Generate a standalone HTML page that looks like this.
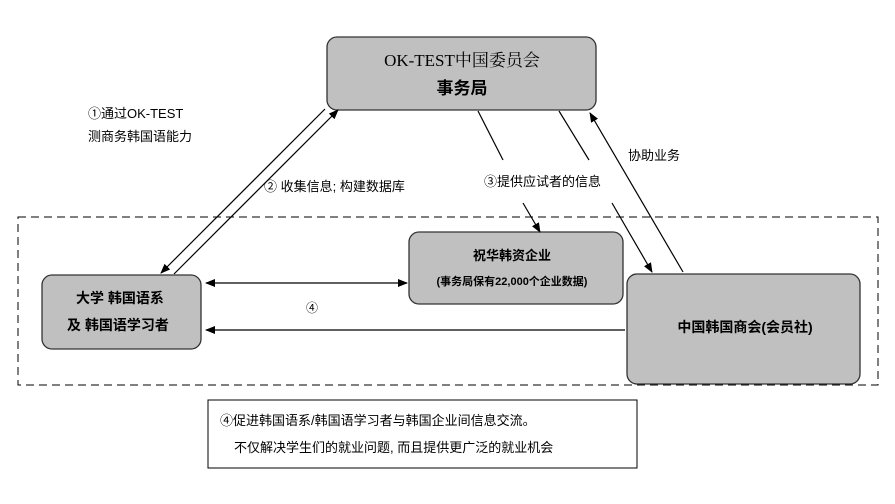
<!DOCTYPE html><html><head><meta charset="utf-8"><style>
body{margin:0;width:895px;height:504px;background:#fff;overflow:hidden;font-family:"Liberation Sans","Noto Sans CJK SC",sans-serif}
</style></head><body>
<svg width="895" height="504" xmlns="http://www.w3.org/2000/svg" style="position:absolute;left:0;top:0">
<defs><marker id="a" markerWidth="10" markerHeight="8" refX="9" refY="4" orient="auto" markerUnits="userSpaceOnUse"><path d="M0,0 L10,4 L0,8 z" fill="#000"/></marker></defs>
<g font-family="Liberation Sans,Noto Sans CJK SC,sans-serif" fill="#000">
<rect x="18" y="217" width="860" height="168" fill="none" stroke="#000" stroke-dasharray="8,5"/>
<rect x="327" y="37" width="269" height="73" rx="10" fill="#c0c0c0" stroke="#333" stroke-width="1.3"/>
<rect x="42" y="275" width="159" height="74" rx="10" fill="#c0c0c0" stroke="#333" stroke-width="1.3"/>
<rect x="409" y="232" width="214" height="72" rx="10" fill="#c0c0c0" stroke="#333" stroke-width="1.3"/>
<rect x="627" y="274" width="233" height="110" rx="10" fill="#c0c0c0" stroke="#333" stroke-width="1.3"/>
<rect x="208" y="400" width="429" height="68" fill="#fff" stroke="#000"/>
<g stroke="#000" stroke-width="1.2" fill="none">
<line x1="325" y1="109" x2="161" y2="273" marker-end="url(#a)"/>
<line x1="174" y1="274" x2="338" y2="110" marker-end="url(#a)"/>
<line x1="478" y1="111" x2="503" y2="160"/>
<line x1="523" y1="203" x2="540" y2="232" marker-end="url(#a)"/>
<line x1="559" y1="111" x2="589" y2="160"/>
<line x1="612" y1="203" x2="652" y2="272" marker-end="url(#a)"/>
<line x1="683" y1="272" x2="590" y2="113" marker-end="url(#a)"/>
<line x1="300" y1="283" x2="206" y2="283" marker-end="url(#a)"/>
<line x1="300" y1="283" x2="407" y2="283" marker-end="url(#a)"/>
<line x1="625" y1="330" x2="206" y2="330" marker-end="url(#a)"/>
</g>
<text x="462" y="66" font-size="17" text-anchor="middle" font-family="Liberation Serif,Noto Serif CJK SC,serif">OK-TEST中国委员会</text>
<text x="462" y="94" font-size="17" text-anchor="middle" font-weight="bold">事务局</text>
<text x="120" y="303" font-size="14" text-anchor="middle" font-weight="bold">大学 韩国语系</text>
<text x="118" y="330" font-size="14" text-anchor="middle" font-weight="bold">及 韩国语学习者</text>
<text x="512" y="260" font-size="13" text-anchor="middle" font-weight="bold">祝华韩资企业</text>
<text x="512" y="285" font-size="11" text-anchor="middle" font-weight="bold">(事务局保有22,000个企业数据)</text>
<text x="745" y="332" font-size="14" text-anchor="middle" font-weight="bold">中国韩国商会(会员社)</text>
<text x="88" y="118" font-size="13">①通过OK-TEST</text>
<text x="88" y="141" font-size="13">测商务韩国语能力</text>
<text x="264" y="191" font-size="13">② 收集信息; 构建数据库</text>
<text x="484" y="186" font-size="13">③提供应试者的信息</text>
<text x="628" y="160" font-size="13">协助业务</text>
<text x="306" y="312" font-size="12">④</text>
<text x="220" y="425" font-size="13">④促进韩国语系/韩国语学习者与韩国企业间信息交流。</text>
<text x="234" y="452" font-size="13">不仅解决学生们的就业问题, 而且提供更广泛的就业机会</text>
</g>
</svg>
</body></html>
